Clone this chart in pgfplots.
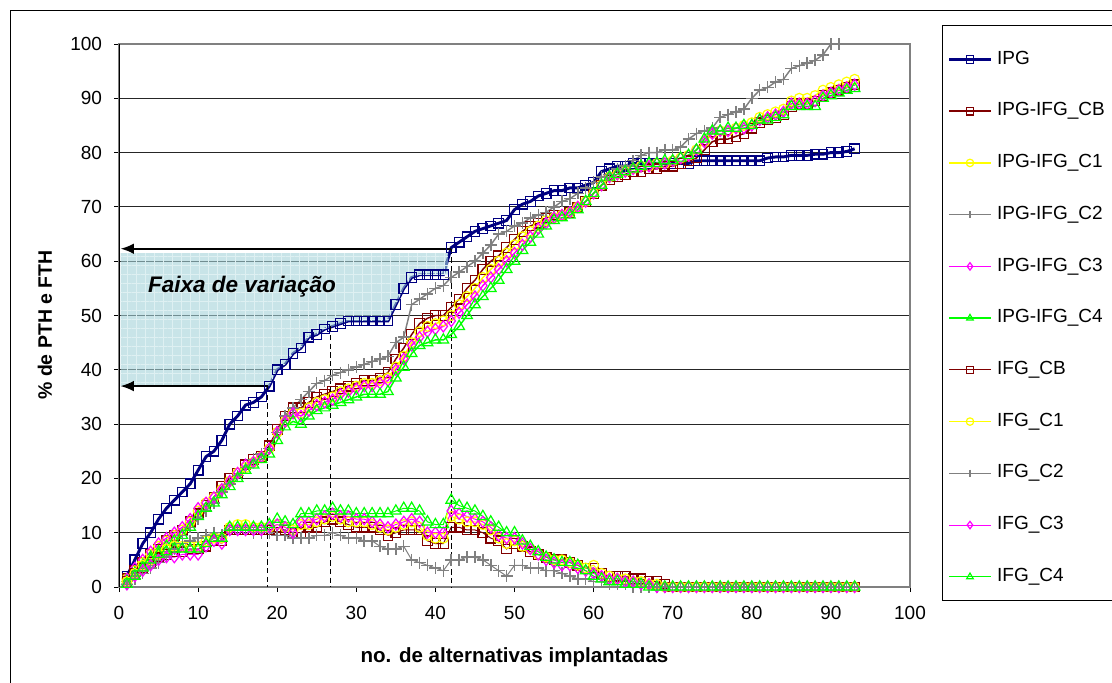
\documentclass[border=0pt]{standalone}
\usepackage{fontspec}
\setmainfont{Liberation Sans}
\usepackage{pgfplots}
\pgfplotsset{compat=1.18}
\usepackage{pgfplotstable}
\usetikzlibrary{arrows.meta,patterns.meta}

\definecolor{cipg}{RGB}{0,0,128}
\definecolor{ccb}{RGB}{128,0,0}
\definecolor{cc1}{RGB}{255,255,0}
\definecolor{cc2}{RGB}{128,128,128}
\definecolor{cc3}{RGB}{255,0,255}
\definecolor{cc4}{RGB}{0,255,0}
\definecolor{faixa}{RGB}{163,210,217}
\definecolor{faixagrid}{RGB}{222,240,242}

% Cumulative curves: IPG alone and IPG combined with each IFG scenario
\pgfplotstableread{
x ipg cb c1 c2 c3 c4
1 2 1.5 1.5 1 1.5 1
2 5 3 3 2 3.5 2.5
3 8 4.5 4.5 3 5 4
4 10 6 6 4 6.5 5.5
5 12.5 7 7.5 5 8 6.5
6 14.5 8.5 8.5 6.5 9 7.5
7 16 9.5 9.5 8 10 8.5
8 17.5 10.5 10.5 9.5 11 9.5
9 19 12 12 11 12.5 11
10 21.5 13.5 14 12.5 14.5 13
11 24 15 15.5 14 15.5 14.5
12 25 16.5 16.5 15.5 16.5 15.5
13 27 18.5 18 17.5 18 17
14 30 20 19.5 19 19.5 18.5
15 31.5 21 21 20.5 21 20
16 33.5 22.5 22 22 22.5 21.5
17 34 23.5 23 23.5 23 22.5
18 35 24 24 24.5 24 23.5
19 37 26 25.5 25.5 25.5 24.5
20 40 29 28.5 28.5 28.5 27
21 41 31.5 30.5 31.5 30.5 29.5
22 43 33 32 33 32 30.5
23 44 33 32 34.5 31.5 30
24 46 34 33 36 32.5 31.5
25 46.5 35 34 37.5 33.5 32.5
26 47.5 35.5 34.5 38 34 33
27 48 36 35 39 34.5 33.5
28 48.5 36.5 36 39.5 35.5 34
29 49 37 36.5 40 36 34.5
30 49 37.5 37 40.5 36.5 35
31 49 38 37.5 41 37 35.5
32 49 38 37.5 41.5 37 35.5
33 49 38.5 38 42 37.5 35.5
34 49 39.5 38.5 42.5 38 36
35 52 42 40.5 45 40 38.5
36 55 44 42.5 46 42 40.5
37 57 46.5 45 52 44.5 43
38 57.5 48.5 47 53 46 44.5
39 57.5 49.5 48 54 47 45
40 57.5 50 48.5 55 47.5 45.5
41 57.5 50 49 55.5 48 45.5
42 62.5 51.5 50 57 49 46.5
43 63.5 53 52 58 50.5 48
44 64.5 55 53.5 59 52 50
45 65.5 56.5 55 60 53.5 52
46 66 58.5 57 61.5 55.5 53.5
47 66.5 60 58.5 63 57 55
48 67 61 60 65 58.5 56.5
49 67.5 62.5 61.5 65.5 60 58.5
50 69.5 64 63 66.5 61.5 60
51 70.5 65.5 64.5 67 63 62
52 71 66.5 65.5 68 64.5 63.5
53 72 67 66.5 68.5 66 65
54 72.5 68 67.5 69 67 66.5
55 73 68.5 68 70 68 67.5
56 73 68.5 68.5 71 68.5 68
57 73.5 69 69 71.5 69 68.5
58 73.5 70 70 72.5 70 69.5
59 74 71 71 73.5 71 71
60 74.5 72.5 72.5 74.5 72.5 72.5
61 76.5 74 74 75.5 74 74
62 77 75 75.5 76 75.5 75.5
63 77.5 75.5 76 77 76 76
64 77.5 76 76.5 77.5 76.5 76.5
65 78 76.5 77 78.5 77 77
66 78 76.5 77.5 79.5 77.5 77.5
67 78 77 77.5 80 77.5 78
68 78 77 78 80 78 78
69 78 77.5 78 80.5 78 78.5
70 78 77.5 78.5 80.5 78.5 78.5
71 78 78 79 81 79 79
72 78 78.5 79.5 82.5 79.5 79.5
73 78.5 79 80.5 83.5 80.5 80.5
74 78.5 80.5 82 84 82 82.5
75 78.5 82 83.5 84.5 83.5 84
76 78.5 82.5 84 86.5 84 84
77 78.5 82.5 84 87 84 84.5
78 78.5 83 84.5 87.5 84.5 84.5
79 78.5 83.5 85 88 84.5 85
80 78.5 84.5 85.5 90 85 85
81 78.5 85.5 86.5 91.5 86 86
82 79 86 87 92 86.5 86
83 79.2 86.5 87.5 93 87 86.5
84 79.2 87 88 93.5 87.5 87
85 79.5 88.5 89.5 95.5 89 88.5
86 79.5 89 90 96 89 88.5
87 79.5 89 90 96.5 89 88.5
88 79.7 89.5 90.5 97 89.5 88.5
89 79.7 90.5 91.5 98 90.5 90
90 80 91 92 100 91 90.5
91 80 91.5 92.5 100 91.5 91
92 80.2 92 93 100.3 92 91.5
93 80.7 92.5 93.5 100.5 92.5 91.8
}\tabIPG

% IFG scenarios on their own
\pgfplotstableread{
x cb c1 c2 c3 c4
1 1 1 0.5 0.5 0.5
2 2.5 2.5 1.5 2 2
3 3.5 4 2.5 3 3.5
4 4.5 5 3.5 4 5
5 5.5 6 4.5 5 6
6 6 7 5.5 5.5 6.5
7 6.5 7.5 7 5.5 7
8 6.5 7.5 8 6 7
9 7 7.5 8.5 6 7
10 7 7.5 9 6 7
11 7.5 8.5 9.5 7.5 8
12 8.5 9 10 8.5 9
13 8.5 9 9.5 8 9
14 10.5 11 10.5 10.5 11
15 10.5 11.5 10.5 10.5 11
16 10.5 11.5 10.5 10.5 11
17 10.5 11 10 10.5 11
18 10.5 11 10 10.5 11
19 10.5 11 10 11 11.5
20 11 11.5 9.5 11.5 12.5
21 10.5 11 9.5 11 12
22 10 10.5 9 10 11.5
23 10 11.5 9 12 13.5
24 11 11.5 9 12 13.5
25 11 12 9.5 12.5 14
26 12 12.5 9.5 13 14
27 12.5 13 10 13.5 14.5
28 12 12.5 9.5 13 14
29 11.5 12 9 13 14
30 11 12 9 12.5 13.5
31 11 12 8.5 12.5 13.5
32 11 11.5 8.5 12 13.5
33 10.5 11 7.5 11.5 13.5
34 9.5 10.5 7 11 13.5
35 10 11 7 11.5 14
36 10.5 11.5 7.5 12 14.5
37 10.5 12 5 12.5 14.5
38 10.5 11 4.5 12 14
39 8.5 9.5 4 10 12
40 8 9 3.5 10 11.5
41 8 9 3 10 11.5
42 11 13 5 14 16
43 11 12.5 5 13.5 15
44 10.5 12 5.5 13 14.5
45 10.5 12 5.5 12.5 14
46 10 11.5 5 12 13
47 9 10.5 4 11 12
48 8.5 9 3 9.5 11
49 7 8 2 9 10
50 8 8.5 4 9 10
51 7.5 7.5 4 8 8.5
52 6.5 7 3.5 7 7.5
53 6 6 3.5 6 6.5
54 5.5 5.5 3 5 5.5
55 5 5 3 4.5 5
56 5 5 2.5 4 4.5
57 4.5 4.5 2 4 4.5
58 4 4 1.5 3.5 4
59 3.5 3.5 1.5 3 3
60 3.5 4 1 2.5 2
61 2.5 2.5 1 2 1.5
62 2 2 0.5 1.5 1
63 2 1.5 0.5 1.5 1
64 2 1.5 0.5 1 0.5
65 1.5 1 0 1 0.5
66 1.5 1 0 0.5 0.5
67 1 0.5 0 0.5 0
68 1 0.5 0 0 0
69 0.5 0 0 0 0
70 0 0 0 0 0
71 0 0 0 0 0
72 0 0 0 0 0
73 0 0 0 0 0
74 0 0 0 0 0
75 0 0 0 0 0
76 0 0 0 0 0
77 0 0 0 0 0
78 0 0 0 0 0
79 0 0 0 0 0
80 0 0 0 0 0
81 0 0 0 0 0
82 0 0 0 0 0
83 0 0 0 0 0
84 0 0 0 0 0
85 0 0 0 0 0
86 0 0 0 0 0
87 0 0 0 0 0
88 0 0 0 0 0
89 0 0 0 0 0
90 0 0 0 0 0
91 0 0 0 0 0
92 0 0 0 0 0
93 0 0 0 0 0
}\tabIFG

\pgfplotsset{
  sipg/.style={color=cipg, line width=2.2pt, mark=square, mark size=3.6pt, mark options={solid, line width=0.9pt}},
  scb/.style={color=ccb, line width=#1, mark=square, mark size=3.6pt, mark options={solid, line width=0.9pt}},
  sc1/.style={color=cc1, line width=#1, mark=o, mark size=3.7pt, mark options={solid, line width=0.9pt}},
  sc2/.style={color=cc2, line width=#1, mark=+, mark size=4.5pt, mark options={solid, line width=1.1pt}},
  sc3/.style={color=cc3, line width=#1, mark=diamond, mark size=4.2pt, mark options={solid, line width=0.9pt}},
  sc4/.style={color=cc4, line width=#1, mark=triangle, mark size=4.6pt, mark options={solid, line width=0.9pt}},
}

\begin{document}
\begin{tikzpicture}
% chart frame and legend frame
\draw[black, line width=0.75pt] (7.5pt,-520pt) -- (7.5pt,-7.5pt) -- (850pt,-7.5pt);
\draw[black, line width=0.75pt] (850pt,-18.75pt) -- (706.5pt,-18.75pt) -- (706.5pt,-450pt) -- (850pt,-450pt);

\begin{axis}[
  at={(89.25pt,-440.25pt)}, anchor=south west,
  width=593.25pt, height=407.25pt, scale only axis,
  xmin=0, xmax=100, ymin=0, ymax=100,
  xtick={0,10,...,100}, ytick={0,10,...,100},
  tick align=outside, major tick length=3.75pt,
  xtick pos=left, ytick pos=left,
  tick style={black, line width=0.75pt},
  ymajorgrids, grid style={black!85, line width=0.75pt},
  axis line style={draw=black!50, line width=1.2pt},
  ticklabel style={font=\fontsize{14.25}{17}\selectfont},
  /pgf/number format/assume math mode=true,
  xticklabel style={yshift=-7pt},
  yticklabel style={xshift=-5.5pt},
  xlabel={no. de alternativas implantadas},
  ylabel={\% de PTH e FTH},
  xlabel style={font=\fontsize{15.4}{18}\selectfont\bfseries, at={(axis description cs:0.5,-0.129)}, anchor=center},
  ylabel style={font=\fontsize{14.6}{17}\selectfont\bfseries, at={(axis description cs:-0.0936,0.4825)}, anchor=center},
  legend style={draw=none, fill=none, at={(axis description cs:1.0475,0.988)}, anchor=north west,
    inner sep=0pt, row sep=25.8pt, column sep=3.75pt,
    nodes={inner sep=0pt, text height=10pt, text depth=3pt},
    font=\fontsize{14.25}{17}\selectfont},
  legend cell align=left,
  legend image code/.code={\draw[mark repeat=2,mark phase=2,#1] plot coordinates {(0pt,0pt) (15.5pt,0pt) (31pt,0pt)};},
  every legend image post/.style={mark size=2.8pt},
]
\addplot[sipg] table[x=x,y=ipg] {\tabIPG};
\addlegendentry{IPG}
\addplot[scb=1.1pt] table[x=x,y=cb] {\tabIPG};
\addlegendentry{IPG-IFG\_CB}
\addplot[sc1=1.1pt] table[x=x,y=c1] {\tabIPG};
\addlegendentry{IPG-IFG\_C1}
\addplot[sc2=1.1pt] table[x=x,y=c2] {\tabIPG};
\addlegendentry{IPG-IFG\_C2}
\addplot[sc3=1.1pt] table[x=x,y=c3] {\tabIPG};
\addlegendentry{IPG-IFG\_C3}
\addplot[sc4=1.1pt] table[x=x,y=c4] {\tabIPG};
\addlegendentry{IPG-IFG\_C4}
\addplot[scb=0.75pt] table[x=x,y=cb] {\tabIFG};
\addlegendentry{IFG\_CB}
\addplot[sc1=0.75pt] table[x=x,y=c1] {\tabIFG};
\addlegendentry{IFG\_C1}
\addplot[sc2=0.75pt] table[x=x,y=c2] {\tabIFG};
\addlegendentry{IFG\_C2}
\addplot[sc3=0.75pt] table[x=x,y=c3] {\tabIFG};
\addlegendentry{IFG\_C3}
\addplot[sc4=0.75pt] table[x=x,y=c4] {\tabIFG};
\addlegendentry{IFG\_C4}

% range of variation between the two arrows
\addplot[forget plot, draw=none, fill=faixa, fill opacity=0.6] coordinates {
  (0.2,37) (19,37) (20,40) (21,41) (22,43) (23,44) (24,46) (25,46.5) (26,47.5)
  (27,48) (28,48.5) (29,49) (34,49) (35,52) (36,55) (37,57) (38,57.5) (41.6,57.5)
  (41.6,61.5) (0.2,61.5)} -- cycle;
\addplot[forget plot, draw=none, pattern={Hatch[angle=0,distance=6.8pt,line width=0.45pt]}, pattern color=faixagrid] coordinates {
  (0.2,37) (19,37) (20,40) (21,41) (22,43) (23,44) (24,46) (25,46.5) (26,47.5)
  (27,48) (28,48.5) (29,49) (34,49) (35,52) (36,55) (37,57) (38,57.5) (41.6,57.5)
  (41.6,61.5) (0.2,61.5)} -- cycle;

% arrows and dashed guides
\addplot[forget plot, black, line width=1.5pt, -{Latex[length=10pt,width=8pt]}] coordinates {(42,62.3) (0.2,62.3)};
\addplot[forget plot, black, line width=1.2pt, -{Latex[length=10pt,width=8pt]}] coordinates {(18.8,37) (0.2,37)};
\addplot[forget plot, black, line width=0.9pt, dash pattern=on 4pt off 2.5pt] coordinates {(18.8,37) (18.8,0)};
\addplot[forget plot, black, line width=0.9pt, dash pattern=on 4pt off 2.5pt] coordinates {(26.7,48) (26.7,0)};
\addplot[forget plot, black, line width=0.9pt, dash pattern=on 4pt off 2.5pt] coordinates {(42,62.3) (42,0)};

\node at (axis cs:15.55,55.25) {\fontsize{16.9}{20}\selectfont\bfseries\itshape Faixa de variação};
\draw[black, line width=0.9pt] (rel axis cs:0,0) -- (rel axis cs:0,1);
\end{axis}
\pgfresetboundingbox
\path[use as bounding box] (0pt,0pt) rectangle (834pt,-511.5pt);
\end{tikzpicture}
\end{document}
